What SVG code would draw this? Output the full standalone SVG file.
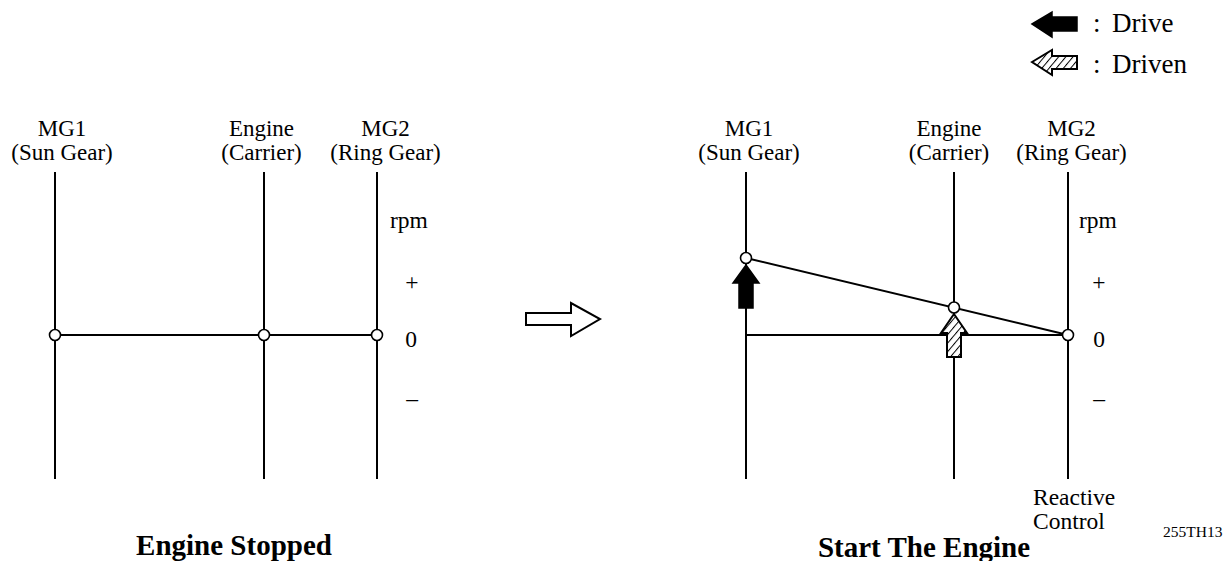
<svg xmlns="http://www.w3.org/2000/svg" width="1226" height="561" viewBox="0 0 1226 561">
<style>
text{font-family:"Liberation Serif","Times New Roman",serif;fill:#000}
.lbl{font-size:23px;text-anchor:middle}
.ax{font-size:23.5px}
.ttl{font-size:29px;font-weight:bold;text-anchor:middle}
.leg{font-size:27px}
.ln{stroke:#000;stroke-width:2;fill:none}
.dot{fill:#fff;stroke:#000;stroke-width:1.6}
.drive{fill:#000;stroke:#000;stroke-width:1.5;stroke-linejoin:miter}
.driven{fill:url(#hatch);stroke:#000;stroke-width:2;stroke-linejoin:miter}
</style>
<defs>
<pattern id="hatch" width="5.5" height="5.5" patternUnits="userSpaceOnUse" patternTransform="rotate(40)">
<rect width="5.5" height="5.5" fill="#fff"/>
<line x1="0" y1="0" x2="0" y2="5.5" stroke="#000" stroke-width="2"/>
</pattern>
</defs>
<rect width="1226" height="561" fill="#fff"/>

<g id="legend">
<polygon class="drive" points="1032,24 1052,12 1052,17 1077,17 1077,31 1052,31 1052,37"/>
<text class="leg" x="1093" y="32">:</text>
<text class="leg" x="1112" y="32">Drive</text>
<polygon class="driven" points="1032,62 1052,50 1052,56 1077,56 1077,69 1052,69 1052,75"/>
<text class="leg" x="1093" y="73">:</text>
<text class="leg" x="1112" y="73">Driven</text>
</g>

<g id="left-diagram">
<g id="left-axes">
<line class="ln" x1="55" y1="172" x2="55" y2="479"/>
<line class="ln" x1="264" y1="172" x2="264" y2="479"/>
<line class="ln" x1="377" y1="172" x2="377" y2="479"/>
</g>
<g id="left-labels">
<text class="lbl" x="62" y="136">MG1</text>
<text class="lbl" x="62" y="160">(Sun Gear)</text>
<text class="lbl" x="261.5" y="136">Engine</text>
<text class="lbl" x="261.5" y="160">(Carrier)</text>
<text class="lbl" x="385.5" y="136">MG2</text>
<text class="lbl" x="385.5" y="160">(Ring Gear)</text>
<text class="ax" x="390" y="228">rpm</text>
<text class="ax" x="412" y="290" text-anchor="middle">+</text>
<text class="ax" x="411" y="347" text-anchor="middle">0</text>
<text class="ax" x="412" y="406" text-anchor="middle">–</text>
<text class="ttl" x="234" y="555">Engine Stopped</text>
</g>
</g>

<g id="right-diagram">
<g id="right-axes">
<line class="ln" x1="746" y1="172" x2="746" y2="479"/>
<line class="ln" x1="954" y1="172" x2="954" y2="479"/>
<line class="ln" x1="1068" y1="172" x2="1068" y2="479"/>
</g>
<g id="right-labels">
<text class="lbl" x="749" y="136">MG1</text>
<text class="lbl" x="749" y="160">(Sun Gear)</text>
<text class="lbl" x="949" y="136">Engine</text>
<text class="lbl" x="949" y="160">(Carrier)</text>
<text class="lbl" x="1071.5" y="136">MG2</text>
<text class="lbl" x="1071.5" y="160">(Ring Gear)</text>
<text class="ax" x="1079" y="228">rpm</text>
<text class="ax" x="1099" y="290" text-anchor="middle">+</text>
<text class="ax" x="1099" y="347" text-anchor="middle">0</text>
<text class="ax" x="1099" y="406" text-anchor="middle">–</text>
<text class="ax" x="1033" y="505">Reactive</text>
<text class="ax" x="1033" y="529">Control</text>
<text class="ttl" x="924" y="557">Start The Engine</text>
</g>
</g>

<g id="connectors">
<line class="ln" x1="55" y1="335" x2="377" y2="335"/>
<line class="ln" x1="746" y1="335" x2="1068" y2="335"/>
<line class="ln" x1="746" y1="258" x2="1068" y2="335"/>
</g>

<g id="nodes">
<circle id="n-l-mg1" class="dot" cx="55" cy="335" r="5.5"/>
<circle id="n-l-eng" class="dot" cx="264" cy="335" r="5.5"/>
<circle id="n-l-mg2" class="dot" cx="377" cy="335" r="5.5"/>
<g id="arrow-drive"><polygon class="drive" points="746,265 759,283 753,283 753,308 739,308 739,283 733,283"/></g>
<g id="arrow-driven"><polygon class="driven" points="954,314 967,333 961,333 961,357 947,357 947,333 941,333"/></g>
<circle id="n-r-mg1" class="dot" cx="746" cy="258" r="5.5"/>
<circle id="n-r-eng" class="dot" cx="954" cy="307.5" r="5.5"/>
<circle id="n-r-mg2" class="dot" cx="1068" cy="335" r="5.5"/>
</g>

<g id="transition-arrow">
<polygon points="526,313 571,313 571,303 600,319 571,336 571,325 526,325" fill="#fff" stroke="#000" stroke-width="2"/>
</g>

<g id="ref">
<text x="1163" y="537" font-size="15.5">255TH13</text>
</g>
</svg>
